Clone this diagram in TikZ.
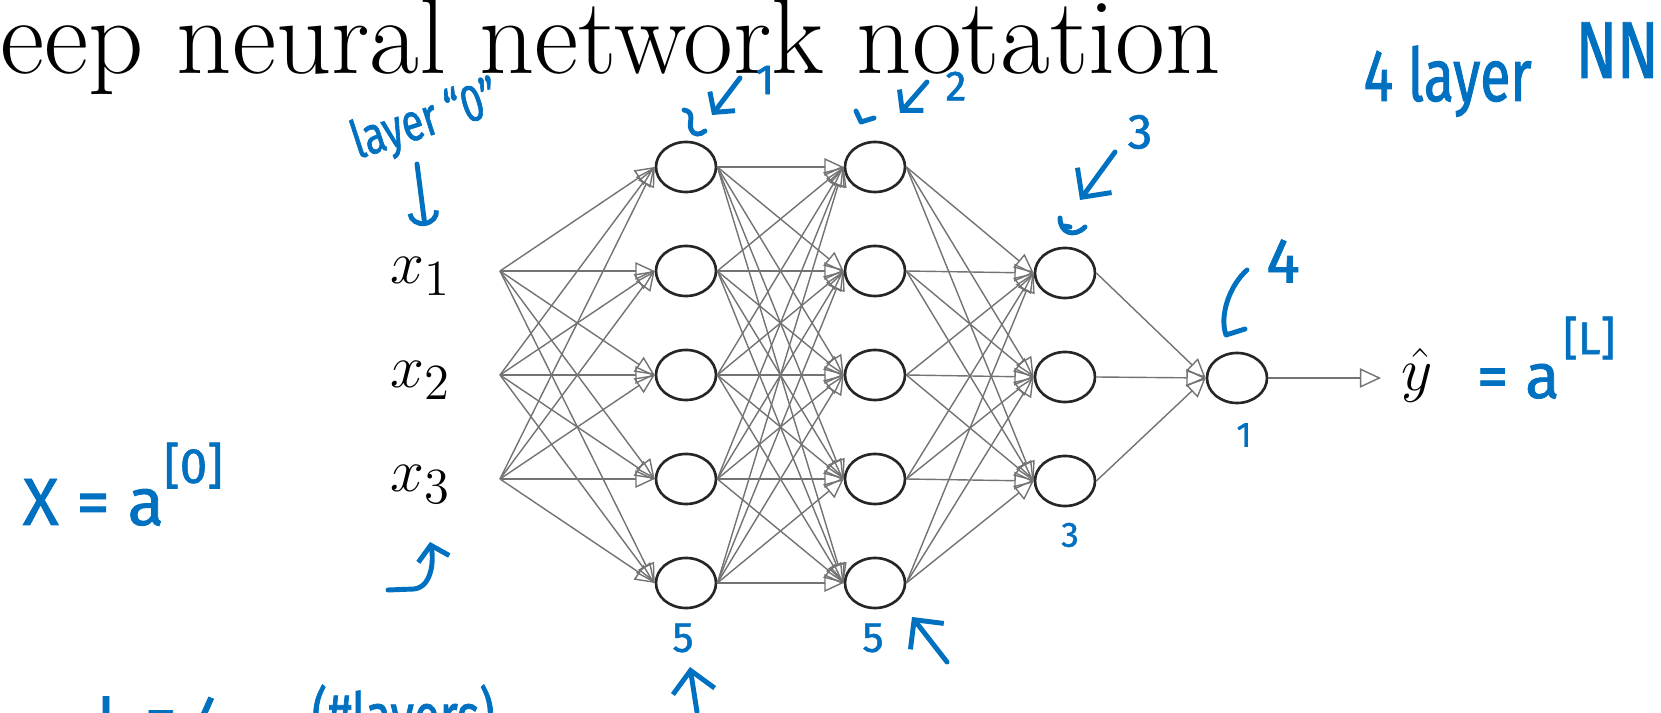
\documentclass[tikz,border=0pt]{standalone}
\usepackage{fontspec}
\newfontfamily\handfont[FakeBold=1.2]{Fira Sans}
\newfontfamily\handnarrow[FakeBold=1.2, FakeStretch=0.75]{Fira Sans}
\usetikzlibrary{shapes.geometric, arrows.meta, positioning, calc}
\usepackage{amsmath}
\definecolor{inkblue}{RGB}{0,112,192}

\begin{document}
\begin{tikzpicture}[x=0.01cm, y=-0.01cm,
        unit/.style={draw=black!85, ellipse, line width=0.75pt, minimum width=0.6cm,
                     minimum height=0.5cm, inner sep=0pt},
        wire/.style={draw=black!55, line width=0.4pt, -{Triangle[open, length=5.5pt, width=5pt]}},
        pen/.style={draw=inkblue, line width=1.4pt, line cap=round, line join=round},
        barb/.style={-{Straight Barb[length=4pt, width=9pt]}},
        bigbarb/.style={-{Straight Barb[length=6pt, width=12pt]}},
        hand/.style={text=inkblue, inner sep=0pt, font=\handfont\fontsize{#1}{#1}\selectfont},
        handn/.style={text=inkblue, inner sep=0pt, font=\handnarrow\fontsize{#1}{#1}\selectfont},
        maths/.style={inner sep=0pt, font=\fontsize{19}{21}\selectfont}
    ]
    \useasboundingbox (0,0) rectangle (1661,713);
    \clip (0,0) rectangle (1661,713);

    \node[anchor=base west, inner sep=0pt, font=\fontsize{30.8}{34}\selectfont] (title) at (0,74)
        {eep neural network notation};

    % inputs
    \foreach \i/\yy in {1/271, 2/375, 3/479} {
        \coordinate (in\i) at (500,\yy);
        \node[maths, anchor=base east] (x\i) at (452,\yy+13) {$x_{\i}$};
    }

    % layers
    \foreach \i in {1,...,5} {
        \node[unit] (a\i) at (686,{63+104*\i}) {};
        \node[unit] (b\i) at (875,{63+104*\i}) {};
    }
    \foreach \i in {1,2,3} \node[unit] (c\i) at (1065,{169+104*\i}) {};
    \node[unit] (d1) at (1237,378) {};

    % weights
    \foreach \i in {1,2,3} \foreach \j in {1,...,5} \draw[wire] (in\i) -- (a\j.west);
    \foreach \i in {1,...,5} \foreach \j in {1,...,5} \draw[wire] (a\i.east) -- (b\j.west);
    \foreach \i in {1,...,5} \foreach \j in {1,2,3} \draw[wire] (b\i.east) -- (c\j.west);
    \foreach \i in {1,2,3} \draw[wire] (c\i.east) -- (d1.west);

    \coordinate (yend) at (1381,378);
    \draw[wire, -{Triangle[open, length=6pt, width=5.5pt]}] (d1.east) -- (yend);
    \node[maths, anchor=base west] (yhat) at (1401,391) {$\hat{y}$};

    % handwritten notes
    \node[handn=15, rotate=18] (lay0) at (426,122) {layer “0”};
    \coordinate (lay0a) at (417,164);
    \coordinate (lay0b) at (425,226);
    \draw[pen, -{Arc Barb[length=4pt, width=9pt]}] (lay0a) -- (lay0b);

    \node[hand=12] (t1) at (765,80) {1};
    \coordinate (t1a) at (740,78);
    \coordinate (t1b) at (712,115);
    \draw[pen, barb] (t1a) -- (t1b);
    \draw[pen] (684,110) .. controls (696,112) and (688,124) .. (691,129)
        .. controls (694,136) and (700,135) .. (705,131);

    \node[hand=12] (t2) at (956,86) {2};
    \coordinate (t2a) at (927,82);
    \coordinate (t2b) at (900,113);
    \draw[pen, barb] (t2a) -- (t2b);
    \draw[pen] (856,111) -- (861,122) -- (874,118);

    \node[hand=14] (t3) at (1140,132) {3};
    \coordinate (t3a) at (1115,152);
    \coordinate (t3b) at (1080,200);
    \draw[pen, bigbarb] (t3a) -- (t3b);
    \draw[pen] (1060,218) .. controls (1060,233) and (1074,238) .. (1085,227);
    \draw[pen] (1064,226) -- (1070,227);

    \node[hand=18] (t4) at (1283,261) {4};
    \draw[pen] (1247,270) .. controls (1230,285) and (1219,315) .. (1226,335) -- (1245,329);

    \node[hand=10] (n4) at (1244,435) {1};
    \node[hand=10] (n3) at (1070,535) {3};
    \node[hand=12] (n1) at (683,638) {5};
    \node[hand=12] (n2) at (873,638) {5};
    \coordinate (n1a) at (697,712);
    \coordinate (n1b) at (690,667);
    \draw[pen, bigbarb] (n1a) -- (n1b);
    \coordinate (n2a) at (947,662);
    \coordinate (n2b) at (912,617);
    \draw[pen, bigbarb] (n2a) -- (n2b);

    \coordinate (x3a) at (388,590);
    \coordinate (x3b) at (430,542);
    \draw[pen, barb] (x3a) -- (414,589) .. controls (432,587) and (434,560) .. (x3b);

    \node[hand=19, anchor=base west] (xa0) at (22,525)
        {X = a\raisebox{12pt}{\fontsize{14}{14}\selectfont[0]}};
    \node[hand=18, anchor=base west] (yaL) at (1476,398)
        {= a\hspace{1pt}\raisebox{12.5pt}{\fontsize{13}{13}\selectfont[L]}};

    \node[handn=21, anchor=base west] (top4) at (1363,101) {4 layer};
    \node[handn=23, anchor=base west] (topNN) at (1575,78) {NN};

    \node[hand=18, anchor=base west] (bigL) at (96,740) {L = 4};
    \node[handn=18, anchor=base west] (nlay) at (311,738) {(\#layers)};
\end{tikzpicture}
\end{document}
